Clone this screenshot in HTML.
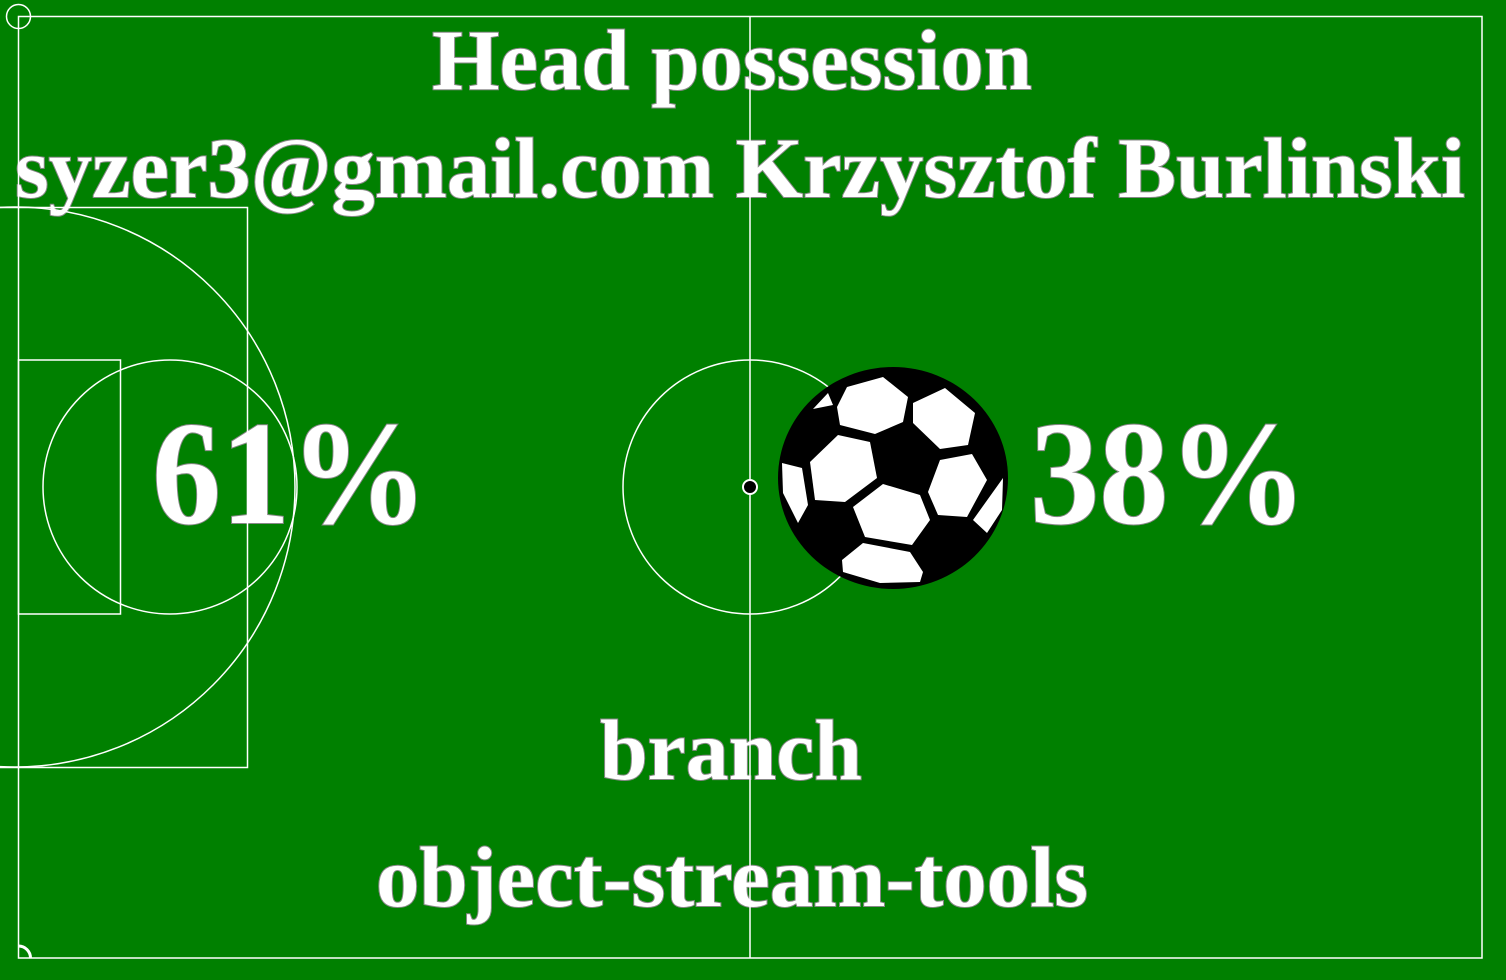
<!DOCTYPE html>
<html><head><meta charset="utf-8"><style>html,body{margin:0;padding:0;background:#008000}svg{display:block}</style></head>
<body>
<svg width="1506" height="980" viewBox="0 0 1506 980" xmlns="http://www.w3.org/2000/svg">
<rect x="0" y="0" width="1506" height="980" fill="#008000"/>
<g font-family="'Liberation Serif', serif" font-weight="bold" fill="#fff" stroke="#888" stroke-width="2" paint-order="stroke">
<text x="432" y="89" font-size="86" textLength="600" lengthAdjust="spacingAndGlyphs">Head possession</text>
<text x="15" y="197" font-size="86" textLength="1450" lengthAdjust="spacingAndGlyphs">syzer3@gmail.com Krzysztof Burlinski</text>
<text x="152" y="523" font-size="148" textLength="276" lengthAdjust="spacingAndGlyphs">61%</text>
<text x="1030" y="523" font-size="148" textLength="277" lengthAdjust="spacingAndGlyphs">38%</text>
<text x="600" y="779" font-size="86" textLength="262" lengthAdjust="spacingAndGlyphs">branch</text>
<text x="376" y="906" font-size="86" textLength="712" lengthAdjust="spacingAndGlyphs">object-stream-tools</text>
</g>
<g fill="none" stroke="#fff" stroke-width="1.5">
<rect x="18.5" y="16.5" width="1463.5" height="941.5"/>
<line x1="750" y1="16.5" x2="750" y2="958"/>
<circle cx="750" cy="487" r="127"/>
<path d="M0 207.5 H247.5 V767.5 H0"/>
<rect x="18.5" y="360" width="102" height="254"/>
<circle cx="170" cy="487" r="127"/>
<circle cx="15" cy="487" r="280"/>
<circle cx="18.5" cy="16.5" r="12"/>
<path d="M18.5 946 A12 12 0 0 1 30.5 958" stroke-width="3"/>
</g>
<circle cx="750" cy="487" r="7" fill="#000" stroke="#fff" stroke-width="2"/>
<g>
<ellipse cx="893" cy="478" rx="115" ry="111" fill="#000"/>
<g fill="#fff">
<polygon points="837,407 847,387 883,377 908,397 903,422 875,434 840,425"/>
<polygon points="913,403 945,388 975,413 968,445 940,449 913,423"/>
<polygon points="810,462 838,435 870,442 877,478 845,502 815,500"/>
<polygon points="853,507 883,484 920,495 930,520 912,545 865,537"/>
<polygon points="928,492 940,460 972,454 987,480 967,517 938,515"/>
<polygon points="842,560 863,543 910,552 923,572 920,582 880,583 843,572"/>
<polygon points="782,463 802,468 808,505 798,523 783,493"/>
<polygon points="1003,478 1002,510 987,533 973,520"/>
<polygon points="813,409 828,393 833,405"/>
</g>
</g>
</svg>
</body></html>
